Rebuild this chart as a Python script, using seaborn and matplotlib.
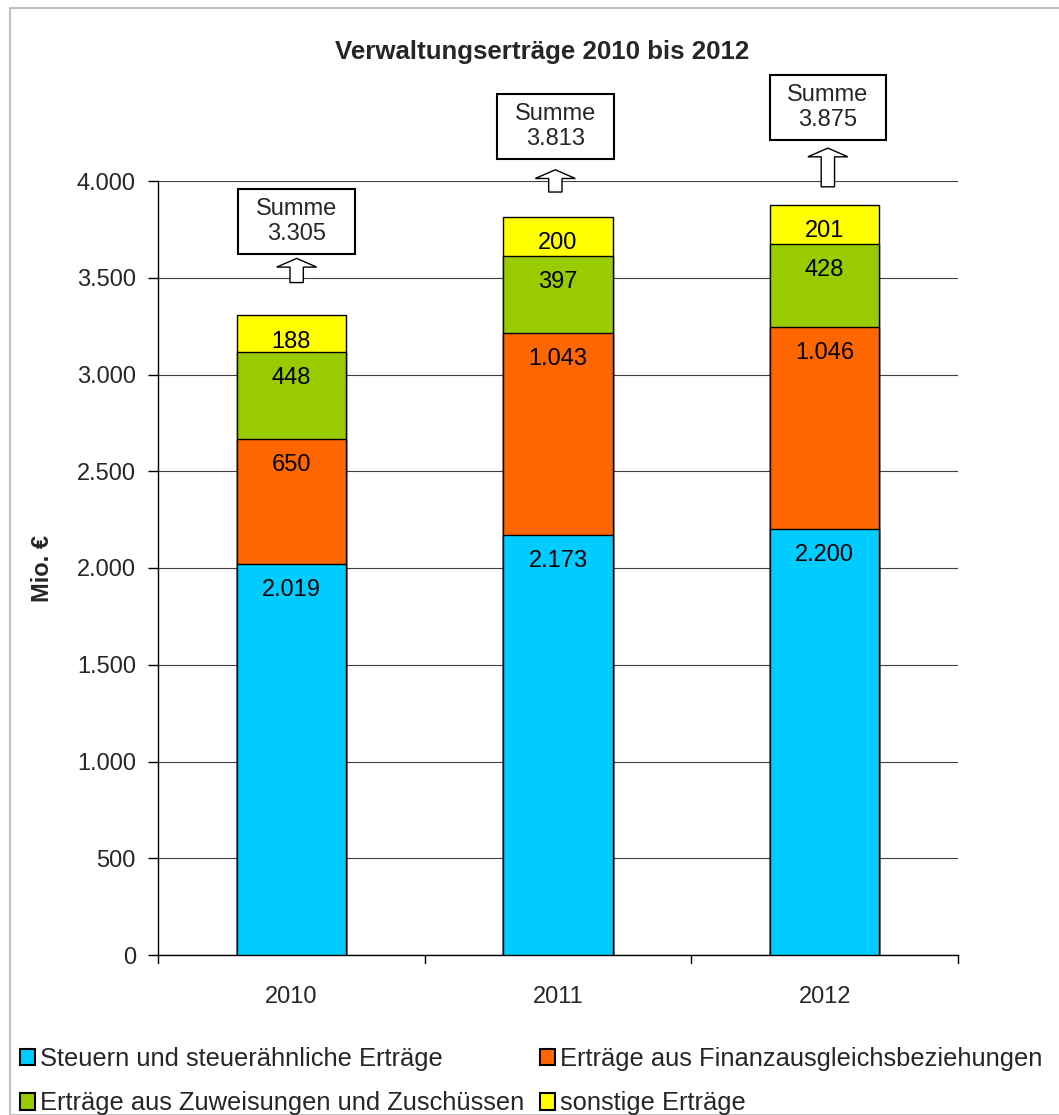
import matplotlib
matplotlib.use("Agg")
import matplotlib.pyplot as plt
from matplotlib.patches import Patch, Rectangle, FancyArrow
import seaborn as sns
import pandas as pd
import numpy as np

years = ["2010", "2011", "2012"]
steuern = [2019, 2173, 2200]
finanz = [650, 1043, 1046]
zuweis = [448, 397, 428]
sonstige = [188, 200, 201]
totals = [3305, 3813, 3875]

series_names = ["Steuern und steuerähnliche Erträge",
                "Erträge aus Finanzausgleichsbeziehungen",
                "Erträge aus Zuweisungen und Zuschüssen",
                "sonstige Erträge"]
series_vals = [steuern, finanz, zuweis, sonstige]
colors = ["#00CCFF", "#FF6600", "#99CC00", "#FFFF00"]

def de(n):
    return f"{n:,}".replace(",", ".")

sns.set_theme(style="white")
plt.rcParams["font.family"] = ["Liberation Sans", "DejaVu Sans"]
FS = 17

fig = plt.figure(figsize=(10.59, 11.15), dpi=100)
ax = fig.add_axes([158/1059, 1-955/1115, 800/1059, 774/1115])

vals = np.array(series_vals)
cums = np.cumsum(vals, axis=0)

# draw cumulative bars from top layer down
for i in range(len(series_vals)-1, -1, -1):
    df = pd.DataFrame({"Jahr": years, "Wert": cums[i]})
    sns.barplot(data=df, x="Jahr", y="Wert", color=colors[i], saturation=1,
                width=0.41, edgecolor="black", linewidth=1.0, errorbar=None,
                ax=ax, zorder=3)

# segment labels near top of each segment
for i in range(len(series_vals)):
    for j in range(len(years)):
        ax.text(j, cums[i][j] - 135, de(int(vals[i][j])), ha="center", va="center",
                fontsize=FS, color="black", zorder=5)

# Summe boxes and arrows (layout offsets in data units)
box_dx = [0.02, -0.01, 0.012]
box_dy = [485, 470, 505]
arr_lo = [170, 130, 95]
arr_hi = [295, 245, 295]
box_w, box_h = 0.437, 335
for j in range(len(years)):
    t = totals[j]
    xc = j + box_dx[j]
    arr = FancyArrow(xc, t + arr_lo[j], 0, arr_hi[j] - arr_lo[j], width=0.05,
                     head_width=0.15, head_length=45, length_includes_head=True,
                     fc="white", ec="black", lw=1.0, clip_on=False, zorder=6)
    ax.add_patch(arr)
    yc = t + box_dy[j]
    ax.add_patch(Rectangle((xc - box_w/2, yc - box_h/2), box_w, box_h, fc="white",
                           ec="black", lw=1.5, clip_on=False, zorder=7))
    ax.text(xc, yc, "Summe\n" + de(t), ha="center", va="center",
            fontsize=FS, linespacing=1.15, clip_on=False, zorder=8)

ax.set_xlim(-0.5, 2.5)
ax.set_ylim(0, 4000)
ax.set_yticks(np.arange(0, 4001, 500))
ax.set_yticklabels([de(int(v)) for v in np.arange(0, 4001, 500)], fontsize=FS)
ax.set_xticks([0, 1, 2])
ax.set_xticklabels(years, fontsize=FS)
ax.tick_params(axis="x", length=0, pad=22)
ax.tick_params(axis="y", length=7, width=1, color="black", direction="out", pad=9, left=True)
# category boundary ticks
for xb in [-0.5, 0.5, 1.5, 2.5]:
    ax.plot([xb, xb], [0, -40], color="black", lw=1, clip_on=False, zorder=4)

ax.grid(axis="y", color="#404040", lw=0.8, zorder=0)
ax.grid(axis="x", visible=False)
for s in ["top", "right"]:
    ax.spines[s].set_visible(False)
for s in ["left", "bottom"]:
    ax.spines[s].set_color("black")
    ax.spines[s].set_linewidth(1)
ax.set_xlabel("")
ax.set_ylabel("Mio. €", fontsize=FS, fontweight="bold")
ax.yaxis.set_label_coords(-0.13, 0.5)

fig.text(542/1059, 1-52/1115, "Verwaltungserträge 2010 bis 2012", ha="center", va="center",
         fontsize=18.6, fontweight="bold")

# figure border
fig.patches.append(Rectangle((10/1059, 0), 1.2, 1-8/1115, transform=fig.transFigure,
                             fill=False, ec="#C0C0C0", lw=1.5))

order = [0, 2, 1, 3]
handles = [Patch(fc=colors[k], ec="black", lw=1.5) for k in order]
labels = [series_names[k] for k in order]
fig.legend(handles, labels, loc="upper left", bbox_to_anchor=(20/1059, 1-1047/1115),
           ncol=2, frameon=False, fontsize=18.4, handlelength=0.6, handleheight=0.6,
           handletextpad=0.2, columnspacing=0.6, labelspacing=0.8, borderaxespad=0,
           borderpad=0)

fig.savefig("out.png", dpi=100)
